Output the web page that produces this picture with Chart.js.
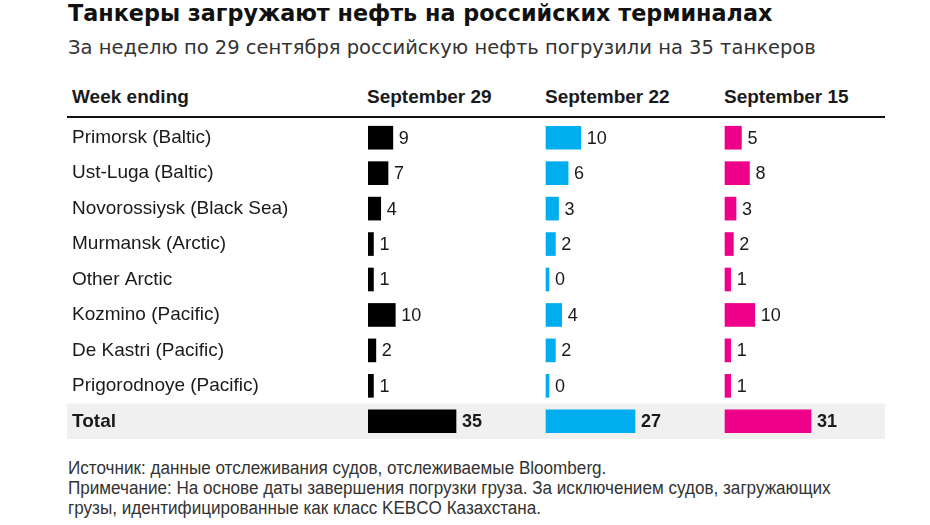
<!DOCTYPE html>
<html>
<head>
<meta charset="utf-8">
<script src="https://cdn.jsdelivr.net/npm/chart.js@4"></script>
<style>
  html,body{margin:0;padding:0;background:#fff}
  body{width:930px;height:525px;overflow:hidden;position:relative;font-family:"Liberation Sans",Arial,sans-serif;color:#111}
  .abs{position:absolute;white-space:nowrap}
  #title{left:68px;top:0px;font-family:"DejaVu Sans",sans-serif;font-size:22.3px;font-weight:bold;line-height:26px;color:#111}
  #sub{left:68px;top:35px;font-family:"DejaVu Sans",sans-serif;font-size:19.5px;line-height:26px;color:#333}
  .hdr{top:86px;font-size:19px;font-weight:bold;line-height:22px;color:#1a1a1a}
  #rule{left:67px;top:116px;width:818px;height:2px;background:#111}
  #note{left:68px;top:458px;font-family:"Liberation Sans",Arial,sans-serif;font-size:18px;line-height:20px;color:#333;transform:scaleX(0.95);transform-origin:0 0}
  #wrap{left:0;top:120px;width:930px;height:319px}
</style>
</head>
<body>
<div id="title" class="abs">Танкеры загружают нефть на российских терминалах</div>
<div id="sub" class="abs">За неделю по 29 сентября российскую нефть погрузили на 35 танкеров</div>
<div id="hRow" class="abs hdr" style="left:72px">Week ending</div>
<div id="h0" class="abs hdr"></div>
<div id="h1" class="abs hdr"></div>
<div id="h2" class="abs hdr"></div>
<div id="rule" class="abs"></div>
<div id="wrap" class="abs"><canvas id="c" width="930" height="319"></canvas></div>
<div id="note" class="abs">Источник: данные отслеживания судов, отслеживаемые Bloomberg.<br>Примечание: На основе даты завершения погрузки груза. За исключением судов, загружающих<br>грузы, идентифицированные как класс KEBCO Казахстана.</div>
<script>
// ---- data ----
const terminals = ['Primorsk (Baltic)','Ust-Luga (Baltic)','Novorossiysk (Black Sea)','Murmansk (Arctic)','Other Arctic','Kozmino (Pacific)','De Kastri (Pacific)','Prigorodnoye (Pacific)','Total'];
const weekHeaders = ['September 29','September 22','September 15'];
const sep29 = [9,7,4,1,1,10,2,1,35];
const sep22 = [10,6,3,2,0,4,2,0,27];
const sep15 = [5,8,3,2,1,10,1,1,31];

// ---- styles / layout ----
const colors = ['#000000','#00aeef','#ee0088'];
const series = [sep29, sep22, sep15];
const areaLeft = 368, areaRight = 885;
const areaW = areaRight - areaLeft;
const colStart = [0, 178, 357];   // px offset of each column from plot left
const colMaxPx = [88, 89, 86];    // px length of the longest bar in each column
const padPx = 3;                  // visual stub at each bar start
const FONT = '"Liberation Sans", Arial, sans-serif';

weekHeaders.forEach((h,i)=>{
  const el = document.getElementById('h'+i);
  el.textContent = h;
  el.style.left = (areaLeft + colStart[i] - 1) + 'px';
});

const scales = {
  y: {
    type:'category',
    position:'left',
    grid:{display:false},
    border:{display:false},
    ticks:{
      autoSkip:false,
      crossAlign:'far',
      padding:0,
      color:'#1a1a1a',
      font:(ctx)=>({family:FONT,size:19,weight:(ctx.index===terminals.length-1)?'bold':'normal'})
    },
    afterFit:(s)=>{ s.width = areaLeft - 72; s.paddingTop = 0; s.paddingBottom = 0; }
  }
};
const datasets = series.map((vals,i)=>{
  const mx = Math.max(...vals);
  const ppu = (colMaxPx[i] - padPx) / mx;
  const min = -(colStart[i] + padPx) / ppu;
  scales['x'+i] = {type:'linear',axis:'x',position:'bottom',display:false,min:min,max:min + areaW/ppu,grid:{display:false}};
  return {
    label: weekHeaders[i],
    data: vals,
    xAxisID: 'x'+i,
    yAxisID: 'y',
    base: -padPx/ppu,
    backgroundColor: colors[i],
    borderWidth: 0,
    grouped: false,
    barThickness: 23
  };
});

const bandPlugin = {
  id:'band',
  beforeDraw(chart){
    const y = chart.scales.y;
    const n = chart.data.labels.length;
    const step = chart.chartArea.height / n;
    const cy = y.getPixelForValue(n-1);
    const ctx = chart.ctx;
    ctx.save();
    ctx.fillStyle = '#f0f0f0';
    ctx.fillRect(67, cy - step/2, 818, step);
    ctx.restore();
  }
};
const valuePlugin = {
  id:'values',
  afterDatasetsDraw(chart){
    const ctx = chart.ctx;
    const n = chart.data.labels.length;
    chart.data.datasets.forEach((ds,i)=>{
      chart.getDatasetMeta(i).data.forEach((bar,j)=>{
        ctx.save();
        ctx.font = (j===n-1 ? 'bold ' : '') + '18px ' + FONT;
        ctx.fillStyle = '#1a1a1a';
        ctx.textAlign = 'left';
        ctx.textBaseline = 'middle';
        ctx.fillText(String(ds.data[j]), bar.x + 6, bar.y + 1);
        ctx.restore();
      });
    });
  }
};

new Chart(document.getElementById('c'), {
  type:'bar',
  data:{labels:terminals, datasets:datasets},
  options:{
    indexAxis:'y',
    responsive:false,
    animation:false,
    devicePixelRatio:1,
    layout:{padding:{left:72,right:930-areaRight,top:0,bottom:0}},
    scales:scales,
    plugins:{legend:{display:false},tooltip:{enabled:false},title:{display:false}}
  },
  plugins:[bandPlugin, valuePlugin]
});
</script>
</body>
</html>
